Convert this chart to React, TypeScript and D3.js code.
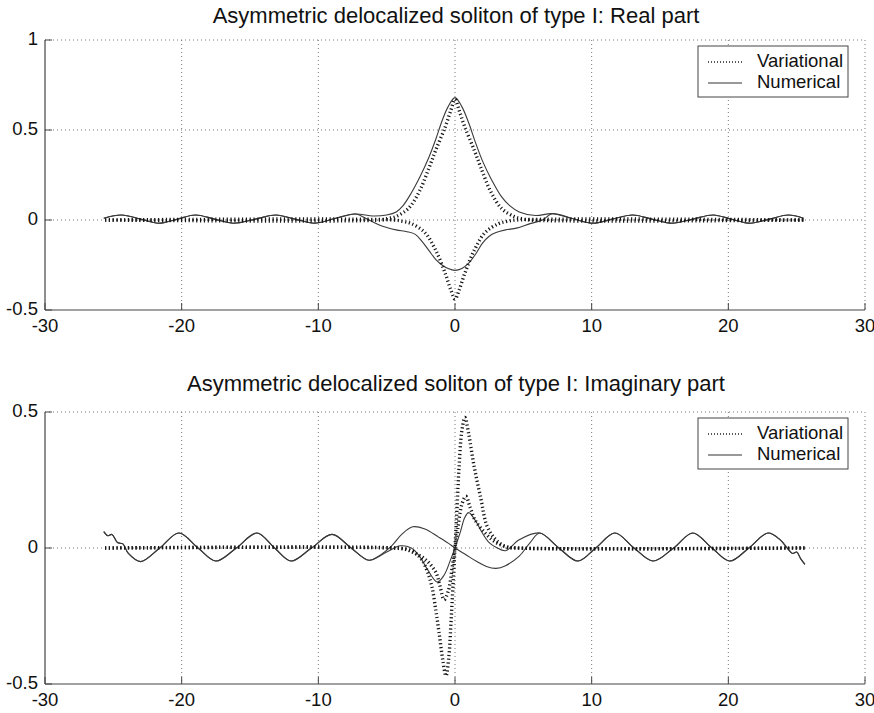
import React from 'react';
import * as d3 from 'd3';

type Pt = [number, number];

const xTicks = [-30, -20, -10, 0, 10, 20, 30];
const yTicksReal = [-0.5, 0, 0.5, 1];
const yTicksImag = [-0.5, 0, 0.5];
const titleReal = 'Asymmetric delocalized soliton of type I: Real part';
const titleImag = 'Asymmetric delocalized soliton of type I: Imaginary part';
const legendLabels = ['Variational', 'Numerical'];

// ---- Real part ----
const reVarUpper: Pt[] = [
  [-25.6, 0], [-5.5, 0], [-4.9, 0.008], [-4.3, 0.02], [-3.4, 0.065], [-2.6, 0.16], [-1.9, 0.29], [-1.4, 0.39],
  [-0.7, 0.52], [-0.3, 0.61], [0, 0.67], [0.3, 0.61], [0.7, 0.52], [1.4, 0.39], [1.9, 0.29], [2.6, 0.16],
  [3.4, 0.065], [4.3, 0.02], [4.9, 0.008], [5.5, 0], [25.6, 0],
];
const reVarLower: Pt[] = [
  [-25.6, 0], [-4.5, 0], [-3.8, -0.008], [-3.2, -0.02], [-2.2, -0.07], [-1.4, -0.17], [-0.7, -0.3], [-0.3, -0.39],
  [0, -0.44], [0.3, -0.39], [0.7, -0.3], [1.4, -0.17], [2.2, -0.07], [3.2, -0.02], [3.8, -0.008], [4.5, 0], [25.6, 0],
];
const reNumUpper: Pt[] = [
  [-25.7, 0.01], [-24.4, 0.028], [-23.0, 0.005], [-21.7, -0.018], [-20.3, 0.005], [-19.0, 0.028], [-17.6, 0.005],
  [-16.2, -0.018], [-14.6, 0.005], [-13.1, 0.028], [-11.7, 0.005], [-10.3, -0.018], [-8.8, 0.008], [-7.3, 0.033],
  [-6.0, 0.022], [-5.0, 0.028], [-4.3, 0.045], [-3.8, 0.08], [-3.2, 0.15], [-2.5, 0.25], [-1.9, 0.35], [-1.4, 0.45],
  [-0.95, 0.55], [-0.5, 0.63], [0, 0.68], [0.5, 0.63], [1.0, 0.54], [1.5, 0.43], [2.0, 0.33], [2.7, 0.22],
  [3.4, 0.13], [4.0, 0.08], [4.7, 0.045], [5.9, 0.025], [7.1, 0.035], [8.6, 0.008], [10.1, -0.018], [11.5, 0.005],
  [13.0, 0.028], [14.4, 0.005], [15.9, -0.018], [17.4, 0.005], [18.9, 0.028], [20.2, 0.005], [21.6, -0.018],
  [23.0, 0.005], [24.4, 0.028], [25.5, 0.01],
];
const reNumLower: Pt[] = [
  [-25.7, 0.01], [-24.4, 0.028], [-23.0, 0.005], [-21.7, -0.018], [-20.3, 0.005], [-19.0, 0.028], [-17.6, 0.005],
  [-16.2, -0.018], [-14.6, 0.005], [-13.1, 0.028], [-11.7, 0.005], [-10.3, -0.018], [-8.8, 0.008], [-7.3, 0.033],
  [-6.3, 0.0], [-5.3, -0.035], [-4.3, -0.055], [-3.5, -0.065], [-2.9, -0.08], [-2.4, -0.12], [-1.9, -0.17],
  [-1.4, -0.22], [-0.95, -0.25], [-0.5, -0.27], [0, -0.28], [0.5, -0.27], [1.0, -0.24], [1.5, -0.19], [2.0, -0.13],
  [2.5, -0.09], [3.0, -0.07], [3.7, -0.055], [4.5, -0.045], [5.5, -0.02], [6.4, 0.0], [7.1, 0.035], [8.6, 0.008],
  [10.1, -0.018], [11.5, 0.005], [13.0, 0.028], [14.4, 0.005], [15.9, -0.018], [17.4, 0.005], [18.9, 0.028],
  [20.2, 0.005], [21.6, -0.018], [23.0, 0.005], [24.4, 0.028], [25.5, 0.01],
];

// ---- Imaginary part ----
const imVarBig: Pt[] = [
  [-25.6, 0], [-4.5, 0], [-3.5, -0.005], [-3.0, -0.015], [-2.4, -0.045], [-2.0, -0.09], [-1.7, -0.14], [-1.4, -0.23],
  [-1.17, -0.31], [-0.9, -0.41], [-0.66, -0.47], [-0.45, -0.4], [-0.3, -0.28], [-0.15, -0.14], [0, 0],
  [0.15, 0.15], [0.3, 0.3], [0.5, 0.43], [0.73, 0.48], [1.0, 0.42], [1.4, 0.3], [1.9, 0.18], [2.35, 0.08],
  [3.0, 0.03], [3.7, 0.005], [4.5, 0], [25.6, 0],
];
const imVarSmall: Pt[] = [
  [-25.6, 0], [-4.3, 0], [-3.6, -0.005], [-2.9, -0.02], [-2.1, -0.045], [-1.4, -0.09], [-1.1, -0.14], [-0.8, -0.19],
  [-0.5, -0.16], [-0.2, -0.07], [0, 0], [0.2, 0.07], [0.5, 0.16], [0.8, 0.19], [1.1, 0.15], [1.5, 0.1],
  [2.25, 0.053], [3.0, 0.02], [3.8, 0.004], [4.5, 0], [25.6, 0],
];
const imNumA: Pt[] = [
  [-25.7, 0.06], [-25.4, 0.045], [-25.1, 0.05], [-24.7, 0.02], [-24.3, 0.015], [-23.9, -0.02], [-23.0, -0.05],
  [-21.6, 0.0], [-20.2, 0.055], [-18.8, 0.0], [-17.5, -0.048], [-16.0, 0.0], [-14.5, 0.055], [-13.2, 0.0],
  [-12.0, -0.048], [-10.5, 0.0], [-9.0, 0.05], [-7.6, 0.0], [-6.3, -0.045], [-5.0, -0.015], [-4.0, 0.008],
  [-3.2, 0.0], [-2.6, -0.03], [-2.0, -0.08], [-1.3, -0.125], [-0.8, -0.1], [-0.3, -0.04], [0, 0.0], [0.4, 0.06],
  [0.7, 0.11], [1.0, 0.13], [1.5, 0.1], [2.0, 0.055], [2.5, 0.02], [3.0, 0.003], [3.7, -0.01], [4.7, 0.03],
  [6.2, 0.055], [7.6, 0.0], [9.0, -0.048], [10.3, 0.0], [11.7, 0.055], [13.1, 0.0], [14.5, -0.048], [16.0, 0.0],
  [17.4, 0.055], [18.8, 0.0], [20.1, -0.048], [21.5, 0.0], [22.9, 0.055], [23.8, 0.03], [24.3, 0.0], [24.7, -0.02],
  [25.0, -0.015], [25.3, -0.04], [25.6, -0.06],
];
const imNumB: Pt[] = [
  [-25.7, 0.06], [-25.4, 0.045], [-25.1, 0.05], [-24.7, 0.02], [-24.3, 0.015], [-23.9, -0.02], [-23.0, -0.05],
  [-21.6, 0.0], [-20.2, 0.055], [-18.8, 0.0], [-17.5, -0.048], [-16.0, 0.0], [-14.5, 0.055], [-13.2, 0.0],
  [-12.0, -0.048], [-10.5, 0.0], [-9.0, 0.05], [-7.6, 0.0], [-6.3, -0.045], [-5.6, -0.03], [-4.6, 0.01],
  [-3.9, 0.05], [-3.1, 0.078], [-2.2, 0.07], [-1.2, 0.04], [-0.5, 0.018], [0, 0.0], [0.8, -0.025], [1.6, -0.05],
  [2.3, -0.068], [3.0, -0.075], [3.7, -0.065], [4.7, -0.03], [5.5, 0.02], [6.2, 0.055], [7.6, 0.0], [9.0, -0.048],
  [10.3, 0.0], [11.7, 0.055], [13.1, 0.0], [14.5, -0.048], [16.0, 0.0], [17.4, 0.055], [18.8, 0.0], [20.1, -0.048],
  [21.5, 0.0], [22.9, 0.055], [23.8, 0.03], [24.3, 0.0], [24.7, -0.02], [25.0, -0.015], [25.3, -0.04], [25.6, -0.06],
];

const FONT = '"Liberation Sans", Arial, Helvetica, sans-serif';
const LEFT = 45;
const RIGHT = 865;
const VAR_STYLE = { stroke: '#161616', strokeWidth: 3.4, dash: '1.2 2.6' };
const NUM_STYLE = { stroke: '#3a3a3a', strokeWidth: 1.1 };

interface PanelProps {
  title: string;
  titleY: number;
  top: number;
  bottom: number;
  yDomain: [number, number];
  yTicks: number[];
  variational: Pt[][];
  numerical: Pt[][];
}

function Panel({ title, titleY, top, bottom, yDomain, yTicks, variational, numerical }: PanelProps) {
  const x = d3.scaleLinear().domain([-30, 30]).range([LEFT, RIGHT]);
  const y = d3.scaleLinear().domain(yDomain).range([bottom, top]);
  const line = d3
    .line<Pt>()
    .x((d) => x(d[0]))
    .y((d) => y(d[1]))
    .curve(d3.curveCatmullRom.alpha(0.5));
  const legX = 698;
  const legY = top + 6;
  return (
    <g>
      <text x={(LEFT + RIGHT) / 2 + 1} y={titleY} textAnchor="middle" dominantBaseline="middle"
        fontFamily={FONT} fontSize={22} fill="#111">{title}</text>
      {/* grid */}
      {xTicks.slice(1).map((t) => (
        <line key={'gx' + t} x1={x(t)} x2={x(t)} y1={top} y2={bottom} stroke="#777" strokeDasharray="1 3" />
      ))}
      {yTicks.slice(1).map((t) => (
        <line key={'gy' + t} x1={LEFT} x2={RIGHT} y1={y(t)} y2={y(t)} stroke="#777" strokeDasharray="1 3" />
      ))}
      {/* axes */}
      <line x1={LEFT} x2={RIGHT} y1={bottom} y2={bottom} stroke="#444" strokeWidth={1.2} />
      <line x1={LEFT} x2={LEFT} y1={top} y2={bottom} stroke="#444" strokeWidth={1.2} />
      {xTicks.map((t) => (
        <g key={'xt' + t}>
          <line x1={x(t)} x2={x(t)} y1={bottom} y2={bottom - 7} stroke="#444" />
          <text x={x(t)} y={bottom + 17} textAnchor="middle" dominantBaseline="middle" fontFamily={FONT}
            fontSize={18.5} fill="#111">{t}</text>
        </g>
      ))}
      {yTicks.map((t) => (
        <g key={'yt' + t}>
          <line x1={LEFT} x2={LEFT + 7} y1={y(t)} y2={y(t)} stroke="#444" />
          <text x={LEFT - 7} y={y(t)} textAnchor="end" dominantBaseline="middle" fontFamily={FONT}
            fontSize={18.5} fill="#111">{t}</text>
        </g>
      ))}
      {/* data */}
      {numerical.map((s, i) => (
        <path key={'n' + i} d={line(s) || ''} fill="none" stroke={NUM_STYLE.stroke} strokeWidth={NUM_STYLE.strokeWidth} />
      ))}
      {variational.map((s, i) => (
        <path key={'v' + i} d={line(s) || ''} fill="none" stroke={VAR_STYLE.stroke}
          strokeWidth={VAR_STYLE.strokeWidth} strokeDasharray={VAR_STYLE.dash} />
      ))}
      {/* legend */}
      <rect x={legX} y={legY} width={150} height={51} fill="#fff" stroke="#444" strokeWidth={1} />
      <line x1={legX + 10} x2={legX + 44} y1={legY + 16} y2={legY + 16} stroke="#222" strokeWidth={1.6}
        strokeDasharray="1 2" />
      <line x1={legX + 10} x2={legX + 44} y1={legY + 37} y2={legY + 37} stroke="#333" strokeWidth={1} />
      <text x={legX + 59} y={legY + 16} dominantBaseline="middle" fontFamily={FONT} fontSize={18.5} fill="#111">
        {legendLabels[0]}
      </text>
      <text x={legX + 59} y={legY + 37} dominantBaseline="middle" fontFamily={FONT} fontSize={18.5} fill="#111">
        {legendLabels[1]}
      </text>
    </g>
  );
}

export default function App() {
  return (
    <svg width={874} height={713} style={{ position: 'absolute', left: 0, top: 0, background: '#fff' }}>
      <rect width={874} height={713} fill="#fff" />
      <Panel title={titleReal} titleY={17} top={40} bottom={310} yDomain={[-0.5, 1]} yTicks={yTicksReal}
        variational={[reVarUpper, reVarLower]} numerical={[reNumUpper, reNumLower]} />
      <Panel title={titleImag} titleY={385} top={412} bottom={684} yDomain={[-0.5, 0.5]} yTicks={yTicksImag}
        variational={[imVarBig, imVarSmall]} numerical={[imNumA, imNumB]} />
    </svg>
  );
}
